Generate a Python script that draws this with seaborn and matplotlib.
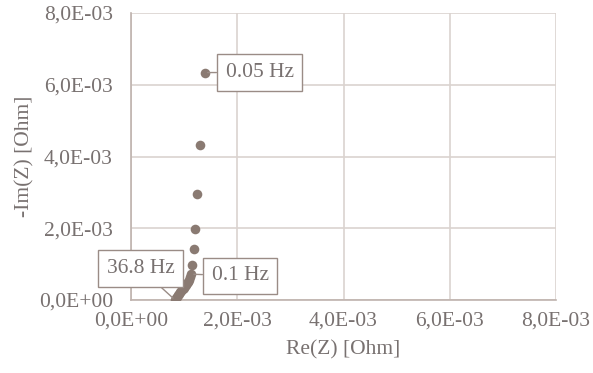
import matplotlib
matplotlib.use("Agg")
import matplotlib.pyplot as plt
import seaborn as sns
import pandas as pd
from matplotlib.ticker import FuncFormatter, MultipleLocator

# Data (values in Ohm * 1e-3)
re_z = [1.39, 1.30, 1.24, 1.20, 1.18, 1.15,
        1.13, 1.11, 1.09, 1.07, 1.05, 1.03, 1.01, 0.99, 0.97,
        0.95, 0.93, 0.91, 0.89, 0.87, 0.85, 0.83]
neg_im_z = [6.34, 4.33, 2.96, 1.98, 1.42, 0.98,
            0.72, 0.64, 0.57, 0.50, 0.46, 0.42, 0.38, 0.34, 0.30,
            0.26, 0.22, 0.18, 0.14, 0.09, 0.05, 0.00]
labels = ["0.05 Hz", "0.1 Hz", "36.8 Hz"]
label_idx = [0, 6, 21]

df = pd.DataFrame({"re": [v * 1e-3 for v in re_z],
                   "im": [v * 1e-3 for v in neg_im_z]})

sns.set_theme(style="white")
plt.rcParams['font.family'] = ['Liberation Serif', 'DejaVu Serif']

text_color = "#787170"
grid_color = "#DAD3CF"
spine_color = "#BFB3AE"
point_color = "#8A7A72"
fs = 15.5

fig = plt.figure(figsize=(5.93, 3.73), dpi=100)
ax = fig.add_axes([131 / 593, 1 - 300 / 373, (556 - 131) / 593, (300 - 13) / 373])

sns.scatterplot(data=df, x="re", y="im", ax=ax, color=point_color, s=48,
                edgecolor=point_color, linewidth=0, zorder=3)

ax.set_xlim(0, 8e-3)
ax.set_ylim(0, 8e-3)
ax.xaxis.set_major_locator(MultipleLocator(2e-3))
ax.yaxis.set_major_locator(MultipleLocator(2e-3))
fmt = FuncFormatter(lambda v, p: f"{v:.1E}".replace(".", ","))
ax.xaxis.set_major_formatter(fmt)
ax.yaxis.set_major_formatter(fmt)

ax.grid(True, color=grid_color, linewidth=1.2)
ax.set_axisbelow(True)
for s in ["top", "right"]:
    ax.spines[s].set_visible(False)
for s in ["left", "bottom"]:
    ax.spines[s].set_color(spine_color)
    ax.spines[s].set_linewidth(1.2)

ax.tick_params(axis="both", length=0, labelsize=fs, colors=text_color)
ax.tick_params(axis="y", pad=13)
ax.tick_params(axis="x", pad=8)
ax.set_xlabel("Re(Z) [Ohm]", fontsize=fs, color=text_color, labelpad=7)
ax.set_ylabel("-Im(Z) [Ohm]", fontsize=fs, color=text_color, labelpad=3)

text_pos = [(259.5, 300.5), (240, 97), (140.5, 104.5)]
for lab, i, pos in zip(labels, label_idx, text_pos):
    ax.annotate(lab, xy=(df["re"][i], df["im"][i]), xytext=pos,
                textcoords="figure pixels", ha="center", va="center",
                fontsize=fs, color=text_color, zorder=5,
                bbox=dict(boxstyle="square,pad=0.4", fc="white",
                          ec="#9A8C86", lw=1.0),
                arrowprops=dict(arrowstyle="-", color="#9A8C86", lw=1.0,
                                shrinkA=0, shrinkB=2))

fig.savefig("out.png", dpi=100)
